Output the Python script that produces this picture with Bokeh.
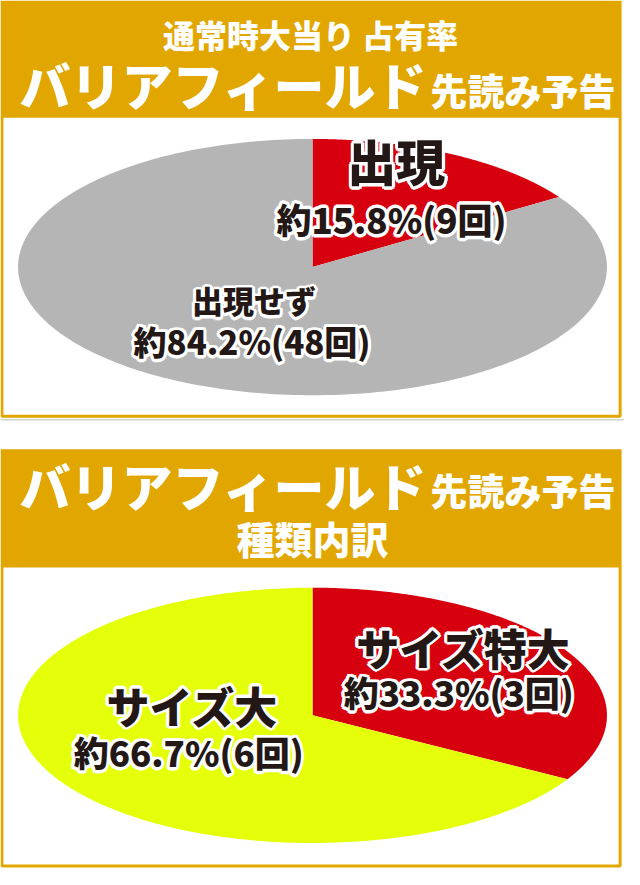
import numpy as np
from bokeh.plotting import figure
from bokeh.models import Range1d
from bokeh.core.properties import value
from bokeh.embed import file_html
from bokeh.resources import INLINE

# ---------------- data ----------------
header1_line1 = "通常時大当り 占有率"
header_main = "バリアフィールド"
header_sub = "先読み予告"
header2_line2 = "種類内訳"

chart1_names = ["出現", "出現せず"]
chart1_counts = [9, 48]
chart1_pcts = ["15.8", "84.2"]

chart2_names = ["サイズ特大", "サイズ大"]
chart2_counts = [3, 6]
chart2_pcts = ["33.3", "66.7"]

# ---------------- styles / layout ----------------
GOLD = "#E2A600"
RED = "#D7000F"
GRAY = "#B5B5B6"
YELLOW = "#E5FF0B"
INK = "#231815"
FONT = value("'Noto Sans CJK JP Black', 'Noto Sans CJK JP'")

chart1_colors = [RED, GRAY]
chart2_colors = [RED, YELLOW]

# (name x, name y, name size, pct x, pct y, pct size)
chart1_label_pos = [(406, 162, "49px", 401, 222, "35px"),
                    (260, 305, "31px", 258, 347, "33px")]
chart2_label_pos = [(475, 658, "43px", 470, 704, "35px"),
                    (197, 717, "43px", 193, 765, "35px")]

p = figure(width=624, height=869, x_range=Range1d(0, 640), y_range=Range1d(885, 0),
           output_backend="svg", toolbar_location=None, x_axis_type=None, y_axis_type=None,
           min_border=0, min_border_left=0, min_border_right=0, min_border_top=0,
           min_border_bottom=0)
p.grid.visible = False
p.outline_line_color = None
p.background_fill_color = "white"
p.border_fill_color = "white"

# ---- frames ----
p.quad(left=[0], right=[637], top=[0], bottom=[118], fill_color=GOLD, line_color=None)
p.quad(left=[1.5], right=[635.5], top=[118], bottom=[423.5], fill_color="white",
       line_color=GOLD, line_width=3)
p.line(x=[0, 640], y=[427, 427], line_color="#D2D2D2", line_width=1.5)
p.quad(left=[0], right=[637], top=[457], bottom=[576], fill_color=GOLD, line_color=None)
p.quad(left=[1.5], right=[635.5], top=[576], bottom=[881.5], fill_color="white",
       line_color=GOLD, line_width=3)


def pie(cx, cy, a, b, counts, colors):
    total = float(sum(counts))
    xs, ys = [], []
    cum = 0.0
    for c in counts:
        t0 = np.pi / 2 - 2 * np.pi * cum / total
        t1 = np.pi / 2 - 2 * np.pi * (cum + c) / total
        t = np.linspace(t0, t1, 240)
        xs.append([cx] + list(cx + a * np.cos(t)) + [cx])
        ys.append([cy] + list(cy - b * np.sin(t)) + [cy])
        cum += c
    p.patches(xs=xs, ys=ys, fill_color=colors, line_color=None)


pie(320, 271.5, 302, 130.5, chart1_counts, chart1_colors)
pie(320, 728, 302, 130, chart2_counts, chart2_colors)

HALO = [(2.6 * np.cos(k * np.pi / 4), 2.6 * np.sin(k * np.pi / 4)) for k in range(8)]


def outlined(x, y, t, size):
    # white halo underneath, then ink text
    for dx, dy in HALO:
        p.text(x=[x], y=[y], text=[t], text_color="white", text_outline_color="white",
               x_offset=dx, y_offset=dy,
               text_font=FONT, text_font_style="bold", text_font_size=value(size),
               text_align="center", text_baseline="middle")
    p.text(x=[x], y=[y], text=[t], text_color=INK,
           text_font=FONT, text_font_style="bold", text_font_size=value(size),
           text_align="center", text_baseline="middle")


def labels(names, counts, pcts, pos):
    for n, c, pc, (nx, ny, ns, px, py, ps) in zip(names, counts, pcts, pos):
        outlined(nx, ny, n, ns)
        outlined(px, py, f"約{pc}%({c}回)", ps)


labels(chart1_names, chart1_counts, chart1_pcts, chart1_label_pos)
labels(chart2_names, chart2_counts, chart2_pcts, chart2_label_pos)


def wtext(x, y, t, size, align="center"):
    p.text(x=[x], y=[y], text=[t], text_color="white", text_font=FONT,
           text_font_style="bold", text_font_size=value(size), text_align=align,
           text_baseline="middle")


wtext(318, 34, header1_line1, "32px")
wtext(438, 85, header_main, "51px", "right")
wtext(441, 91, header_sub, "37px", "left")
wtext(438, 493, header_main, "51px", "right")
wtext(441, 499, header_sub, "37px", "left")
wtext(320, 547, header2_line2, "38px")

open("out.html", "w").write(file_html(p, INLINE))
